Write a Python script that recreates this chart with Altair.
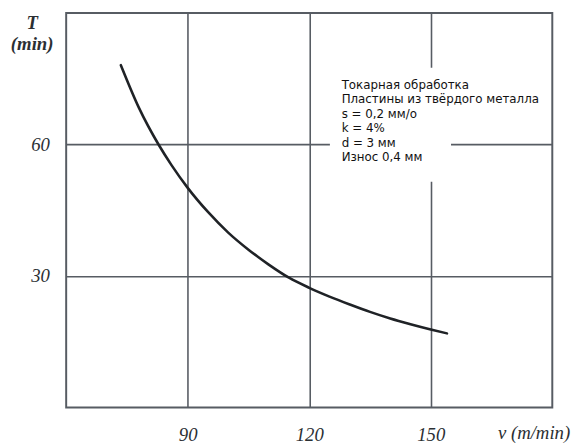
import altair as alt
import pandas as pd

# Curve T(v)
V = [73.5, 78, 82.8, 86, 90, 95, 100, 105, 110, 115, 120, 125, 130, 135, 140, 145, 150, 154]
T = [78.1, 68.3, 60.0, 55.3, 50.1, 44.6, 39.9, 36.0, 32.6, 29.6, 27.3, 25.3, 23.5, 21.8, 20.3, 19.0, 17.8, 16.9]

X_TICKS = [90, 120, 150]
Y_TICKS = [30, 60]

ANNOTATION = [
    "Токарная обработка",
    "Пластины из твёрдого металла",
    "s = 0,2 мм/о",
    "k = 4%",
    "d = 3 мм",
    "Износ 0,4 мм",
]

GRID = "#575c63"
INK = "#2b2f33"

curve_df = pd.DataFrame({"v": V, "T": T})
note_df = pd.DataFrame({"txt": ["\n".join(ANNOTATION)]})

xscale = alt.Scale(domain=[60, 180], nice=False, zero=False)
yscale = alt.Scale(domain=[0, 90], nice=False, zero=False)

xaxis = alt.Axis(
    values=X_TICKS, grid=True, gridColor=GRID, gridWidth=1.6, gridOpacity=1,
    ticks=False, domain=False,
    labelFont="Liberation Serif", labelFontStyle="italic", labelFontSize=19,
    labelColor=INK, labelBaseline="alphabetic", labelPadding=34,
    title="v (m/min)", titleFont="Liberation Serif", titleFontStyle="italic",
    titleFontWeight="normal", titleFontSize=19, titleColor=INK,
    titleX=474, titleY=32, titleAlign="center", titleBaseline="alphabetic",
)
yaxis = alt.Axis(
    values=Y_TICKS, grid=True, gridColor=GRID, gridWidth=1.6, gridOpacity=1,
    ticks=False, domain=False,
    labelFont="Liberation Serif", labelFontStyle="italic", labelFontSize=19,
    labelColor=INK, labelPadding=17, labelBaseline="middle",
    title=["T", "(min)"], titleFont="Liberation Serif", titleFontStyle="italic",
    titleFontWeight="bold", titleFontSize=19, titleColor=INK, titleAngle=0,
    titleX=-35, titleY=1, titleAlign="center", titleBaseline="top",
    titleLineHeight=21,
)

curve = alt.Chart(curve_df).mark_line(
    color="#1f2226", strokeWidth=2.6, interpolate="monotone", strokeCap="round"
).encode(
    x=alt.X("v:Q", scale=xscale, axis=xaxis),
    y=alt.Y("T:Q", scale=yscale, axis=yaxis),
)

blank = alt.Chart(note_df).mark_rect(color="white").encode(
    x=alt.datum(125.1), x2=alt.datum(155.0),
    y=alt.datum(77.5), y2=alt.datum(51.5),
)

note = alt.Chart(note_df).mark_text(
    align="left", baseline="top", lineBreak="\n", lineHeight=14.8,
    font="DejaVu Sans", fontSize=12, color="#111111",
).encode(
    x=alt.datum(128.0), y=alt.datum(74.8), text="txt:N",
)

chart = alt.layer(blank, curve, note).properties(
    width=493, height=400,
    padding={"left": 59, "top": 2, "right": 21, "bottom": 35},
    autosize="none", background="white",
).configure_view(stroke=GRID, strokeWidth=2)

chart.save("out.html", embed_options={"renderer": "svg", "actions": False})
